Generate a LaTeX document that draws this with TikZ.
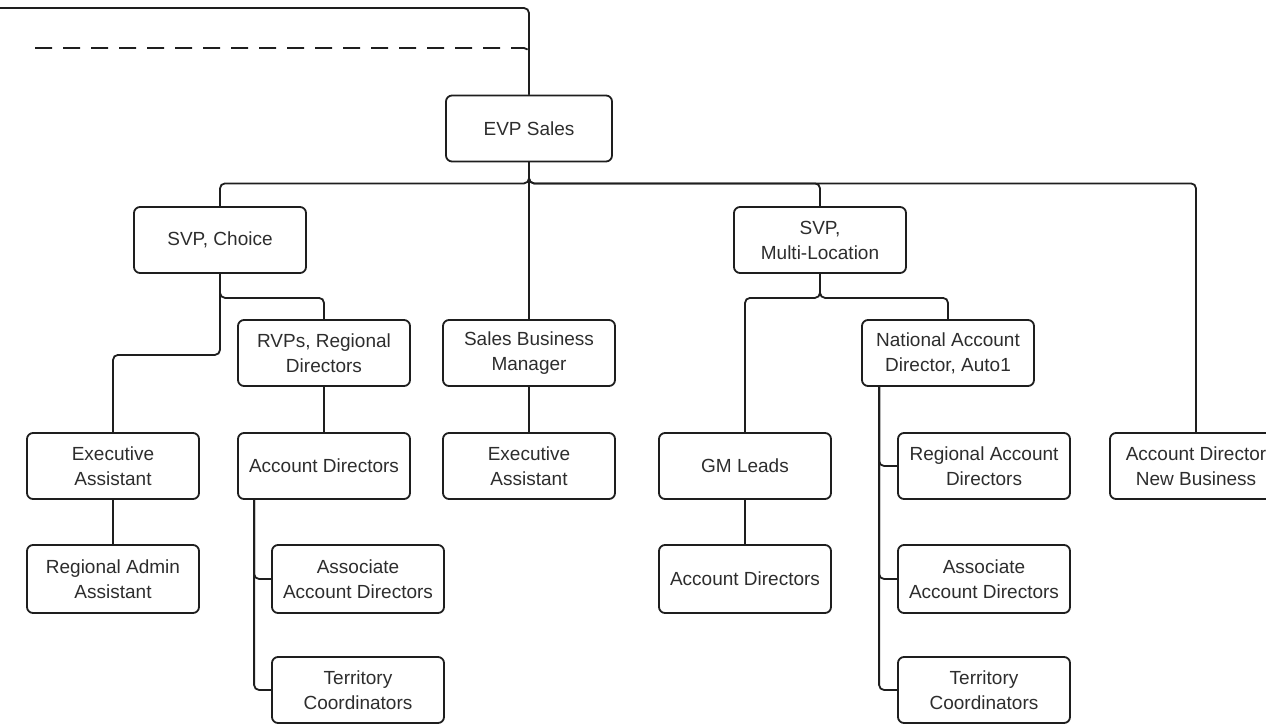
\documentclass[tikz,border=0pt]{standalone}
\usepackage{fontspec}
\setmainfont{Liberation Sans}
\definecolor{linecol}{RGB}{30,30,30}
\definecolor{txtcol}{RGB}{45,45,45}
\begin{document}
\begin{tikzpicture}[x=1pt,y=1pt,
  box/.style={draw=linecol, line width=1.8pt, rounded corners=6pt, align=center,
    minimum width=172pt, minimum height=66pt, inner sep=2pt, text=txtcol,
    font=\fontsize{19}{25}\selectfont},
  conn/.style={draw=linecol, line width=1.8pt, rounded corners=5pt},
  dashconn/.style={conn, dash pattern=on 17pt off 11pt}]
\useasboundingbox (0,0) rectangle (1266,-725);
\clip (0,0) rectangle (1266,-725);

% nodes
\node[box, minimum width=166pt] (evp)  at (529,-128.5) {EVP Sales};
\node[box] (svpc) at (220,-240) {SVP, Choice};
\node[box] (svpm) at (820,-240) {SVP,\\Multi-Location};
\node[box] (rvp)  at (324,-353) {RVPs, Regional\\Directors};
\node[box] (sbm)  at (529,-353) {Sales Business\\Manager};
\node[box] (nad)  at (948,-353) {National Account\\Director, Auto1};
\node[box] (ea1)  at (113,-466) {Executive\\Assistant};
\node[box] (ad1)  at (324,-466) {Account Directors};
\node[box] (ea2)  at (529,-466) {Executive\\Assistant};
\node[box] (gm)   at (745,-466) {GM Leads};
\node[box] (rad)  at (984,-466) {Regional Account\\Directors};
\node[box] (adnb) at (1196,-466) {Account Director\\New Business};
\node[box, minimum height=68pt] (ra)   at (113,-579) {Regional Admin\\Assistant};
\node[box, minimum height=68pt] (aad1) at (358,-579) {Associate\\Account Directors};
\node[box, minimum height=68pt] (ad2)  at (745,-579) {Account Directors};
\node[box, minimum height=68pt] (aad2) at (984,-579) {Associate\\Account Directors};
\node[box] (tc1)  at (358,-690) {Territory\\Coordinators};
\node[box] (tc2)  at (984,-690) {Territory\\Coordinators};

% free ends of the incoming lines
\coordinate (topA) at (-2,-8);
\coordinate (topB) at (35,-48);

% connectors
\draw[conn] (topA) -| (evp.north);
\draw[dashconn] (topB) -| (evp.north);

\draw[conn] (evp.south) -- ++(0,-21) -| (svpc.north);
\draw[conn] (evp.south) -- (sbm.north);
\draw[conn] (evp.south) -- ++(0,-21) -| (svpm.north);
\draw[conn] (evp.south) -- ++(0,-21) -| (adnb.north);

\draw[conn] (svpc.south) -- ++(0,-24) -| (rvp.north);
\draw[conn] (svpc.south) -- ++(0,-81) -| (ea1.north);
\draw[conn] (rvp.south) -- (ad1.north);
\draw[conn] (sbm.south) -- (ea2.north);
\draw[conn] (ea1.south) -- (ra.north);
\draw[conn] ([xshift=17pt]ad1.south west) |- (aad1.west);
\draw[conn] ([xshift=17pt]ad1.south west) |- (tc1.west);

\draw[conn] (svpm.south) -- ++(0,-24) -| (gm.north);
\draw[conn] (svpm.south) -- ++(0,-24) -| (nad.north);
\draw[conn] (gm.south) -- (ad2.north);
\draw[conn] ([xshift=18pt]nad.south west) |- (rad.west);
\draw[conn] ([xshift=18pt]nad.south west) |- (aad2.west);
\draw[conn] ([xshift=18pt]nad.south west) |- (tc2.west);
\end{tikzpicture}
\end{document}
